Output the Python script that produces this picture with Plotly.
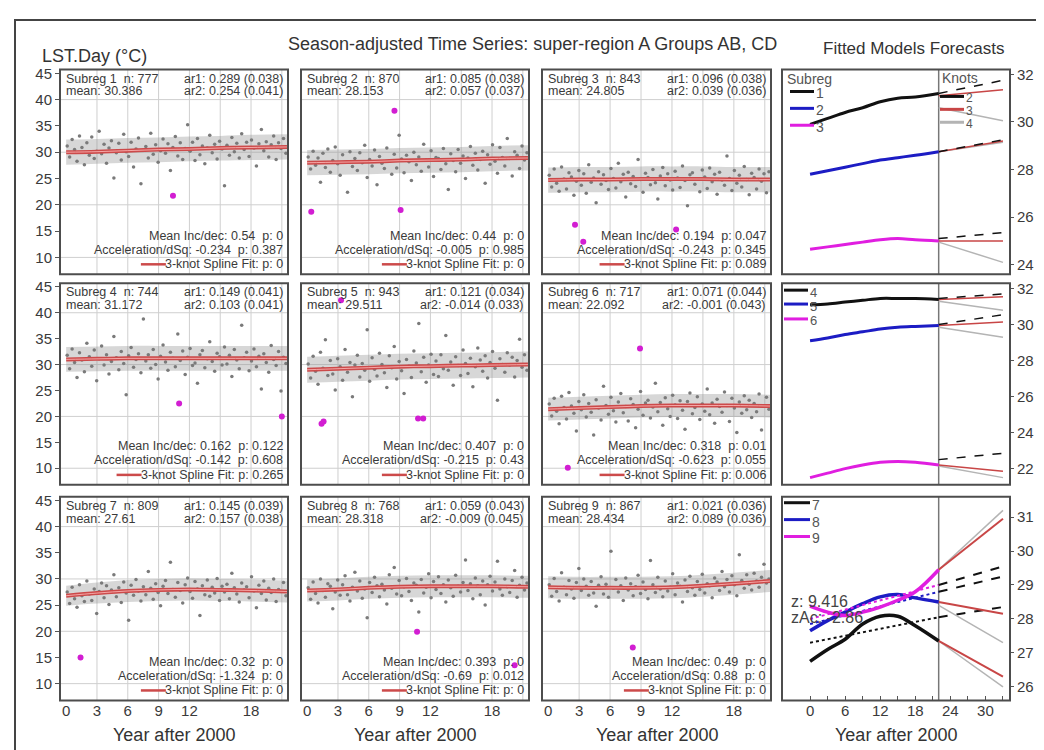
import plotly.graph_objects as go

# ------------------------------------------------------------------ data
spline_years = [0, 3, 6, 9, 12, 15, 18, 21.5]

fit_1 = [30.0, 30.1, 30.3, 30.5, 30.6, 30.8, 30.9, 31.0]
fit_2 = [28.0, 28.1, 28.2, 28.4, 28.5, 28.6, 28.8, 28.9]
fit_3 = [24.7, 24.8, 24.8, 24.9, 24.9, 24.9, 24.8, 24.8]
fit_4 = [31.0, 31.1, 31.2, 31.2, 31.2, 31.2, 31.2, 31.2]
fit_5 = [29.0, 29.2, 29.4, 29.6, 29.7, 29.8, 29.9, 30.0]
fit_6 = [21.4, 21.6, 21.8, 22.0, 22.1, 22.1, 22.1, 22.0]
fit_7 = [26.8, 27.3, 27.7, 27.9, 28.0, 27.9, 27.8, 27.6]
fit_8 = [27.8, 28.0, 28.3, 28.5, 28.6, 28.6, 28.6, 28.5]
fit_9 = [28.4, 28.3, 28.3, 28.3, 28.4, 28.7, 29.1, 29.6]

band_lo_1 = [27.6, 27.8, 28.0, 28.1, 28.3, 28.4, 28.5, 28.6]
band_hi_1 = [32.4, 32.5, 32.7, 32.8, 33.0, 33.1, 33.3, 33.4]
band_lo_2 = [25.6, 25.7, 25.8, 26.0, 26.1, 26.2, 26.4, 26.5]
band_hi_2 = [30.4, 30.5, 30.6, 30.8, 30.9, 31.0, 31.2, 31.3]
band_lo_3 = [22.3, 22.4, 22.4, 22.5, 22.5, 22.5, 22.4, 22.4]
band_hi_3 = [27.1, 27.2, 27.2, 27.3, 27.3, 27.3, 27.2, 27.2]
band_lo_4 = [28.6, 28.7, 28.8, 28.8, 28.8, 28.8, 28.8, 28.8]
band_hi_4 = [33.4, 33.5, 33.6, 33.6, 33.6, 33.6, 33.6, 33.6]
band_lo_5 = [26.5, 26.7, 26.9, 27.1, 27.2, 27.3, 27.4, 27.5]
band_hi_5 = [31.5, 31.7, 31.9, 32.1, 32.2, 32.3, 32.4, 32.5]
band_lo_6 = [19.2, 19.4, 19.6, 19.8, 19.9, 19.9, 19.9, 19.8]
band_hi_6 = [23.6, 23.8, 24.0, 24.2, 24.3, 24.3, 24.3, 24.2]
band_lo_7 = [24.9, 25.3, 25.6, 25.8, 25.9, 25.8, 25.7, 25.5]
band_hi_7 = [28.7, 29.3, 29.8, 30.0, 30.1, 30.0, 29.9, 29.7]
band_lo_8 = [25.7, 25.9, 26.2, 26.4, 26.5, 26.5, 26.5, 26.4]
band_hi_8 = [29.9, 30.1, 30.4, 30.6, 30.7, 30.7, 30.7, 30.6]
band_lo_9 = [26.3, 26.2, 26.2, 26.2, 26.3, 26.6, 27.0, 27.5]
band_hi_9 = [30.5, 30.4, 30.4, 30.4, 30.5, 30.8, 31.2, 31.7]

dots_1 = [31.2, 29.1, 32.4, 30.5, 28.3, 33.1, 30.9, 27.6, 31.8, 29.4,
          32.9, 28.8, 30.2, 34.0, 29.7, 31.5, 27.9, 30.8, 32.2, 25.1,
          29.9, 31.7, 28.5, 33.4, 30.1, 29.2, 31.9, 27.2, 30.6, 32.7,
          24.0, 30.4, 31.1, 28.9, 33.6, 29.6, 31.4, 28.1, 30.3, 32.5,
          29.8, 31.6, 26.5, 30.9, 33.0, 29.3, 31.8, 28.6, 30.7, 35.2,
          30.2, 31.9, 28.4, 32.6, 29.5, 31.2, 27.8, 30.8, 33.2, 29.9,
          31.5, 28.7, 32.1, 30.6, 23.6, 31.3, 29.4, 32.8, 30.1, 31.7,
          28.9, 33.5, 30.5, 31.9, 29.2, 32.3, 30.8, 27.4, 31.6, 34.3,
          30.3, 32.0, 29.1, 31.4, 33.1, 28.6, 31.8, 30.7, 32.6, 29.8]
dots_2 = [29.1, 26.8, 30.2, 27.5, 28.9, 24.3, 29.8, 27.1, 30.6, 26.2,
          28.4, 31.0, 27.8, 25.6, 29.5, 28.1, 22.4, 30.1, 27.3, 28.8,
          26.5, 29.9, 28.0, 31.3, 25.2, 28.6, 27.4, 30.4, 23.8, 29.2,
          27.9, 26.9, 30.8, 28.3, 25.8, 29.6, 27.0, 33.2, 28.7, 26.1,
          29.4, 28.2, 24.6, 30.0, 27.6, 29.1, 26.4, 31.5, 28.5, 27.2,
          30.3, 25.4, 29.0, 28.8, 26.7, 30.7, 27.8, 22.9, 29.7, 28.4,
          26.3, 30.5, 27.9, 29.3, 25.0, 28.9, 31.1, 27.5, 29.8, 26.6,
          28.6, 30.2, 24.1, 29.5, 27.7, 31.4, 28.3, 26.0, 30.9, 29.0,
          27.4, 32.6, 28.8, 25.5, 30.1, 29.4, 26.9, 31.2, 28.5, 29.9]
dots_3 = [25.6, 23.4, 26.8, 24.1, 22.6, 27.2, 24.9, 23.0, 26.1, 25.3,
          21.8, 24.5, 26.5, 23.7, 25.9, 22.2, 27.6, 24.3, 25.1, 20.4,
          26.3, 23.9, 25.7, 24.6, 22.9, 26.9, 25.0, 23.2, 27.9, 24.4,
          25.8, 21.5, 26.2, 24.0, 25.4, 23.5, 28.6, 24.8, 22.4, 26.0,
          25.2, 23.8, 26.7, 24.2, 21.1, 25.5, 27.1, 23.6, 25.9, 24.7,
          22.8, 26.4, 25.1, 23.3, 27.4, 24.6, 19.8, 25.7, 26.1, 23.9,
          24.9, 22.5, 26.6, 25.3, 23.1, 27.0, 24.4, 25.8, 22.0, 26.2,
          24.7, 23.7, 29.3, 25.0, 22.7, 26.5, 24.1, 25.6, 23.4, 27.3,
          24.8, 21.9, 26.0, 25.2, 23.0, 26.8, 24.5, 25.9, 22.3, 26.3]
dots_4 = [31.8, 29.2, 33.0, 30.4, 27.5, 32.3, 30.9, 28.6, 34.1, 31.5,
          29.7, 32.8, 26.9, 31.1, 33.6, 29.9, 31.9, 28.2, 30.6, 35.4,
          31.3, 29.0, 32.5, 30.2, 24.2, 31.7, 33.3, 29.5, 31.0, 32.1,
          28.4, 38.8, 30.7, 31.9, 29.3, 32.9, 30.0, 27.2, 31.6, 33.8,
          30.5, 28.9, 32.4, 31.2, 29.6, 35.9, 30.8, 32.6, 28.1, 31.4,
          33.1, 29.8, 30.3, 26.4, 31.9, 32.7, 29.4, 31.1, 34.4, 30.6,
          28.7, 32.2, 31.5, 29.9, 33.4, 30.1, 31.8, 27.7, 32.9, 30.9,
          29.2, 37.6, 31.3, 32.4, 28.8, 30.7, 33.0, 29.6, 31.6, 25.3,
          32.1, 30.4, 28.5, 33.7, 31.0, 29.8, 32.5, 24.9, 31.4, 30.2]
dots_5 = [30.1, 27.4, 31.6, 28.7, 26.2, 32.4, 29.3, 34.8, 27.9, 30.8,
          28.2, 25.1, 31.1, 29.6, 27.0, 32.9, 28.5, 30.4, 23.8, 29.9,
          31.8, 27.6, 30.2, 28.9, 36.7, 26.8, 31.3, 29.1, 27.8, 32.2,
          30.0, 28.4, 25.6, 31.7, 29.4, 33.5, 27.2, 30.6, 28.8, 24.4,
          31.0, 29.7, 27.5, 32.6, 30.3, 37.9, 28.6, 31.4, 26.6, 29.9,
          32.0, 28.1, 30.7, 27.7, 31.9, 29.2, 35.6, 28.9, 30.5, 26.0,
          31.5, 29.8, 27.9, 32.8, 30.2, 28.3, 31.2, 25.7, 29.6, 33.2,
          30.9, 28.7, 31.7, 27.4, 30.4, 32.5, 29.3, 23.1, 31.1, 30.0,
          28.5, 32.3, 29.9, 31.4, 27.6, 30.8, 34.9, 29.5, 31.9, 28.9]
dots_6 = [22.4, 20.1, 23.5, 21.0, 18.6, 23.9, 21.7, 19.5, 24.6, 22.0,
          20.6, 17.2, 22.9, 21.3, 24.2, 19.9, 22.5, 20.8, 16.4, 23.2,
          21.6, 19.3, 25.8, 22.1, 20.4, 23.7, 21.1, 18.9, 22.8, 24.4,
          20.7, 21.9, 19.1, 23.4, 22.3, 17.8, 21.4, 24.8, 20.2, 22.6,
          23.1, 19.7, 21.8, 26.4, 20.9, 22.7, 18.3, 23.6, 21.5, 20.0,
          24.1, 22.2, 19.6, 23.0, 21.2, 17.5, 22.9, 24.5, 20.5, 21.7,
          23.8, 19.4, 22.4, 21.0, 25.3, 20.3, 22.6, 18.7, 23.3, 21.9,
          20.8, 24.7, 22.1, 19.0, 23.5, 21.6, 16.9, 22.8, 20.6, 24.0,
          21.3, 23.1, 19.8, 22.5, 20.9, 24.3, 17.4, 22.0, 23.7, 21.4]
dots_7 = [27.5, 25.3, 28.4, 26.2, 24.6, 28.9, 26.8, 25.7, 29.6, 27.1,
          25.9, 28.1, 23.4, 27.6, 29.2, 26.4, 28.7, 25.1, 27.9, 30.8,
          26.6, 28.3, 25.5, 29.4, 27.3, 22.1, 28.8, 26.9, 29.9, 27.7,
          25.8, 28.5, 27.0, 31.4, 28.2, 26.1, 29.1, 27.4, 24.9, 28.6,
          29.7, 27.2, 33.2, 28.0, 26.5, 29.3, 27.8, 25.4, 28.9, 30.2,
          27.6, 26.3, 29.5, 28.1, 23.0, 28.7, 27.0, 29.8, 26.7, 28.4,
          27.3, 30.1, 25.9, 28.6, 27.5, 29.0, 26.2, 31.1, 28.3, 27.1,
          25.6, 29.2, 27.9, 28.5, 26.4, 30.4, 27.7, 24.5, 28.8, 27.2,
          29.6, 26.0, 28.2, 27.4, 30.0, 25.7, 28.0, 27.6, 29.3, 26.8]
dots_8 = [28.3, 26.1, 29.4, 27.2, 25.4, 30.0, 27.8, 26.5, 29.1, 28.6,
          24.3, 27.5, 29.8, 26.9, 28.9, 30.6, 27.0, 25.8, 28.4, 31.3,
          27.7, 29.6, 26.3, 28.1, 22.6, 29.3, 27.4, 30.3, 28.7, 26.6,
          29.0, 27.9, 25.2, 30.8, 28.2, 32.2, 27.1, 29.7, 26.8, 28.5,
          30.1, 27.6, 25.9, 29.2, 28.8, 23.7, 29.9, 27.3, 28.4, 31.0,
          26.4, 29.5, 28.0, 30.4, 27.2, 28.9, 25.6, 29.8, 28.3, 26.7,
          30.7, 28.6, 27.5, 29.3, 33.6, 27.8, 29.1, 26.2, 30.2, 28.7,
          27.0, 29.6, 25.0, 28.9, 30.5, 27.7, 29.4, 33.4, 28.1, 26.9,
          30.0, 28.5, 27.4, 29.7, 31.6, 26.5, 28.8, 30.3, 27.9, 29.2]
dots_9 = [28.9, 26.7, 30.1, 27.6, 25.8, 31.2, 28.4, 27.0, 29.7, 28.1,
          26.3, 29.3, 32.0, 27.8, 30.0, 28.6, 26.9, 29.5, 27.3, 24.8,
          28.8, 30.4, 27.1, 29.0, 26.5, 35.3, 28.2, 29.9, 27.5, 28.7,
          25.9, 30.2, 27.9, 29.1, 26.8, 28.5, 30.7, 27.2, 29.4, 28.0,
          26.2, 33.5, 28.9, 27.4, 30.3, 28.1, 26.6, 29.6, 27.7, 28.4,
          31.0, 27.0, 29.2, 28.6, 25.6, 29.8, 27.6, 30.5, 28.3, 26.9,
          29.5, 28.0, 30.9, 27.3, 29.1, 28.7, 26.4, 30.2, 29.4, 27.8,
          31.4, 28.5, 29.9, 27.5, 30.6, 28.9, 26.8, 34.6, 29.7, 28.2,
          30.8, 29.0, 27.9, 31.1, 29.6, 28.4, 30.3, 32.8, 29.2, 30.0]

out_x_1 = [10.4];                     out_y_1 = [21.7]
out_x_2 = [0.4, 9.1, 8.5];            out_y_2 = [18.7, 19.0, 37.9]
out_x_3 = [2.6, 3.4, 12.4];           out_y_3 = [16.2, 13.0, 15.3]
out_x_4 = [11.0, 21.0];               out_y_4 = [22.5, 20.0]
out_x_5 = [1.4, 1.6, 3.3, 10.8, 11.3]; out_y_5 = [18.6, 19.0, 42.4, 19.6, 19.6]
out_x_6 = [8.9, 1.9];                 out_y_6 = [33.1, 10.1]
out_x_7 = [1.4];                      out_y_7 = [15.0]
out_x_8 = [10.7, 20.2];               out_y_8 = [19.9, 13.5]
out_x_9 = [8.2];                      out_y_9 = [16.9]

subreg_ids = [1, 2, 3, 4, 5, 6, 7, 8, 9]
n_obs = [777, 870, 843, 744, 943, 717, 809, 768, 867]
mean_txt = ["30.386", "28.153", "24.805", "31.172", "29.511", "22.092", "27.61", "28.318", "28.434"]
ar1_txt = ["0.289 (0.038)", "0.085 (0.038)", "0.096 (0.038)", "0.149 (0.041)", "0.121 (0.034)",
           "0.071 (0.044)", "0.145 (0.039)", "0.059 (0.043)", "0.021 (0.036)"]
ar2_txt = ["0.254 (0.041)", "0.057 (0.037)", "0.039 (0.036)", "0.103 (0.041)", "-0.014 (0.033)",
           "-0.001 (0.043)", "0.157 (0.038)", "-0.009 (0.045)", "0.089 (0.036)"]
inc_txt = ["0.54  p: 0", "0.44  p: 0", "0.194  p: 0.047", "0.162  p: 0.122", "0.407  p: 0",
           "0.318  p: 0.01", "0.32  p: 0", "0.393  p: 0", "0.49  p: 0"]
acc_txt = ["-0.234  p: 0.387", "-0.005  p: 0.985", "-0.243  p: 0.345", "-0.142  p: 0.608",
           "-0.215  p: 0.43", "-0.623  p: 0.055", "-1.324  p: 0", "-0.69  p: 0.012", "0.88  p: 0"]
spline_p_txt = ["0", "0", "0.089", "0.265", "0", "0.006", "0", "0", "0"]

# forecast panel data
fc_years = [0, 3, 6, 9, 12, 15, 18, 22]
fc_ahead = [22, 33]
fc_fit_1 = [29.9, 30.15, 30.4, 30.6, 30.85, 31.0, 31.05, 31.2]
fc_fit_2 = [27.8, 27.95, 28.1, 28.25, 28.4, 28.5, 28.6, 28.75]
fc_fit_3 = [24.65, 24.75, 24.85, 24.95, 25.05, 25.1, 25.05, 25.0]
fc_fit_4 = [31.1, 31.15, 31.25, 31.35, 31.45, 31.45, 31.45, 31.4]
fc_fit_5 = [29.1, 29.25, 29.45, 29.6, 29.75, 29.85, 29.9, 29.95]
fc_fit_6 = [21.5, 21.75, 22.0, 22.2, 22.35, 22.4, 22.35, 22.2]
fc_fit_7 = [26.75, 27.1, 27.4, 27.85, 28.08, 28.08, 27.8, 27.35]
fc_fit_8 = [27.65, 27.95, 28.2, 28.45, 28.65, 28.72, 28.62, 28.5]
fc_fit_9 = [28.38, 28.2, 28.1, 28.2, 28.35, 28.55, 28.8, 29.45]

# knot forecasts (2 knots = black dashed, 3 knots = red, 4 knots = grey)
k2_1 = [31.2, 31.75];  k3_1 = [31.1, 31.35];  k4_1 = [30.6, 30.05]
k2_2 = [28.75, 29.25]; k3_2 = [28.75, 29.2];  k4_2 = [28.75, 29.15]
k2_3 = [25.1, 25.35];  k3_3 = [25.0, 25.0];   k4_3 = [24.95, 24.1]
k2_4 = [31.45, 31.7];  k3_4 = [31.4, 31.55];  k4_4 = [31.3, 30.8]
k2_5 = [30.0, 30.55];  k3_5 = [29.95, 30.15]; k4_5 = [29.85, 29.3]
k2_6 = [22.5, 22.85];  k3_6 = [22.2, 21.85];  k4_6 = [22.15, 21.5]
k3_7 = [27.35, 26.3];  k4_7 = [27.35, 26.0]
k3_8 = [28.5, 28.15];  k4_8 = [28.4, 27.3]
k3_9 = [29.45, 30.95]; k4_9 = [29.45, 31.2]

lin_years = [0, 22]
lin_7 = [27.3, 28.05];  lin_ahead_7 = [28.05, 28.35]
lin_8 = [27.85, 28.8];  lin_ahead_8 = [28.8, 29.25]
lin_9 = [28.0, 29.0];   lin_ahead_9 = [29.0, 29.55]

scatter_xticks = [0, 3, 6, 9, 12, 15, 18, 21]
scatter_xlabels = ["0", "3", "6", "9", "12", "", "18", ""]
scatter_yticks = [10, 15, 20, 25, 30, 35, 40, 45]
grid_y = [10, 20, 30, 40]
grid_x = [3, 6, 9, 12, 15, 18, 21]
fc_xticks = [0, 3, 6, 9, 12, 15, 18, 21, 24, 27, 30, 33]
fc_xlabels = ["0", "", "6", "", "12", "", "18", "", "24", "", "30", ""]
fc_yranges = [[23.6, 32.2], [21.1, 32.3], [25.6, 31.6]]
fc_yticks = [[24, 26, 28, 30, 32], [22, 24, 26, 28, 30, 32], [26, 27, 28, 29, 30, 31]]

# ------------------------------------------------------------------ layout helpers
W, H = 1044, 750
FONT = "Liberation Sans, Arial, sans-serif"
TXT = "#3a3a3a"
col_px = [(52, 280), (293, 521), (534, 763), (774, 1002)]
row_px = [(57, 263), (272, 475), (487, 692)]

CHAR_W = {" ": 278, "-": 333, ".": 278, ":": 278, "t": 278, "i": 222, "l": 222,
          "k": 500, "S": 667, "F": 611}

def text_w(s, size):
    return sum(CHAR_W.get(ch, 556) for ch in s) / 1000 * size

def px(x):
    return x / W

def py(y):
    return 1 - y / H

def xn(k):
    return "x" if k == 1 else f"x{k}"

def yn(k):
    return "y" if k == 1 else f"y{k}"

def axkey(prefix, k):
    return f"{prefix}axis" if k == 1 else f"{prefix}axis{k}"

fig = go.Figure()
layout = dict(width=W, height=H, margin=dict(l=0, r=0, t=0, b=0),
              paper_bgcolor="white", plot_bgcolor="white", showlegend=False,
              font=dict(family=FONT, color=TXT))
shapes, annots = [], []

fits = [fit_1, fit_2, fit_3, fit_4, fit_5, fit_6, fit_7, fit_8, fit_9]
los = [band_lo_1, band_lo_2, band_lo_3, band_lo_4, band_lo_5, band_lo_6, band_lo_7, band_lo_8, band_lo_9]
his = [band_hi_1, band_hi_2, band_hi_3, band_hi_4, band_hi_5, band_hi_6, band_hi_7, band_hi_8, band_hi_9]
dots = [dots_1, dots_2, dots_3, dots_4, dots_5, dots_6, dots_7, dots_8, dots_9]
outx = [out_x_1, out_x_2, out_x_3, out_x_4, out_x_5, out_x_6, out_x_7, out_x_8, out_x_9]
outy = [out_y_1, out_y_2, out_y_3, out_y_4, out_y_5, out_y_6, out_y_7, out_y_8, out_y_9]

RED = "#cc4a4a"
HF = 12.5
for r in range(3):
    for c in range(4):
        k = r * 4 + c + 1
        x0, x1 = col_px[c]
        y0, y1 = row_px[r]
        xa = dict(domain=[px(x0), px(x1)], anchor=yn(k), showgrid=False, zeroline=False,
                  showline=False, tickfont=dict(size=15, color=TXT))
        ya = dict(domain=[py(y1), py(y0)], anchor=xn(k), showgrid=False, zeroline=False,
                  showline=False, tickfont=dict(size=15, color=TXT))
        if c < 3:
            i = r * 3 + c
            xa.update(range=[-0.6, 21.6], tickmode="array", tickvals=scatter_xticks,
                      ticktext=scatter_xlabels, showticklabels=(r == 2), ticks="")
            ya.update(range=[6.8, 45.7], tickmode="array", tickvals=scatter_yticks,
                      showticklabels=(c == 0), ticks="outside" if c == 0 else "",
                      ticklen=4, tickcolor="#555")
            for g in grid_y:
                shapes.append(dict(type="line", xref=f"{xn(k)} domain", yref=yn(k), x0=0, x1=1,
                                   y0=g, y1=g, line=dict(color="#cfcfcf", width=1), layer="below"))
            for g in grid_x:
                shapes.append(dict(type="line", xref=xn(k), yref=f"{yn(k)} domain", x0=g, x1=g,
                                   y0=0, y1=1, line=dict(color="#cfcfcf", width=1), layer="below"))
            # density band of observations
            fig.add_trace(go.Scatter(x=spline_years, y=los[i], mode="lines", line=dict(width=0, shape="spline"),
                                     xaxis=xn(k), yaxis=yn(k), hoverinfo="skip"))
            fig.add_trace(go.Scatter(x=spline_years, y=his[i], mode="lines", line=dict(width=0, shape="spline"),
                                     fill="tonexty", fillcolor="rgba(145,145,145,0.36)",
                                     xaxis=xn(k), yaxis=yn(k), hoverinfo="skip"))
            n = len(dots[i])
            dx = [0.1 + 21.3 * j / (n - 1) for j in range(n)]
            fig.add_trace(go.Scatter(x=dx, y=dots[i], mode="markers",
                                     marker=dict(size=3.5, color="#7a7a7a"),
                                     xaxis=xn(k), yaxis=yn(k)))
            fig.add_trace(go.Scatter(x=spline_years, y=fits[i], mode="lines",
                                     line=dict(color=RED, width=4, shape="spline"),
                                     xaxis=xn(k), yaxis=yn(k)))
            fig.add_trace(go.Scatter(x=spline_years, y=fits[i], mode="lines",
                                     line=dict(color="rgba(255,190,190,0.8)", width=1, shape="spline"),
                                     xaxis=xn(k), yaxis=yn(k)))
            fig.add_trace(go.Scatter(x=outx[i], y=outy[i], mode="markers",
                                     marker=dict(size=6, color="#d21ed2"),
                                     xaxis=xn(k), yaxis=yn(k)))
            # text
            fh = dict(size=HF, color=TXT, family=FONT)
            spl_txt = f"3-knot Spline Fit: p: {spline_p_txt[i]}"
            tw = text_w(spl_txt, HF)
            shapes.append(dict(type="line", xref="paper", yref="paper",
                               x0=px(x1 - 4 - tw - 25), x1=px(x1 - 4 - tw), y0=py(y1 - 10), y1=py(y1 - 10),
                               line=dict(color=RED, width=2.5)))
            annots += [
                dict(x=px(x0 + 4), y=py(y0 + 9), xref="paper", yref="paper", xanchor="left",
                     yanchor="middle", showarrow=False, font=fh,
                     text=f"Subreg {subreg_ids[i]}  n: {n_obs[i]}"),
                dict(x=px(x0 + 4), y=py(y0 + 22), xref="paper", yref="paper", xanchor="left",
                     yanchor="middle", showarrow=False, font=fh, text=f"mean: {mean_txt[i]}"),
                dict(x=px(x1 - 3), y=py(y0 + 9), xref="paper", yref="paper", xanchor="right",
                     yanchor="middle", showarrow=False, font=fh, text=f"ar1: {ar1_txt[i]}"),
                dict(x=px(x1 - 3), y=py(y0 + 22), xref="paper", yref="paper", xanchor="right",
                     yanchor="middle", showarrow=False, font=fh, text=f"ar2: {ar2_txt[i]}"),
                dict(x=px(x1 - 3), y=py(y1 - 39), xref="paper", yref="paper", xanchor="right",
                     yanchor="middle", showarrow=False, font=fh, text=f"Mean Inc/dec: {inc_txt[i]}"),
                dict(x=px(x1 - 3), y=py(y1 - 24.5), xref="paper", yref="paper", xanchor="right",
                     yanchor="middle", showarrow=False, font=fh,
                     text=f"Acceleration/dSq: {acc_txt[i]}"),
                dict(x=px(x1 - 3), y=py(y1 - 10), xref="paper", yref="paper", xanchor="right",
                     yanchor="middle", showarrow=False, font=fh, text=spl_txt),
            ]
        else:
            xa.update(range=[-4.8, 34.2], tickmode="array", tickvals=fc_xticks, ticktext=fc_xlabels,
                      showticklabels=(r == 2), ticks="inside" if r == 2 else "", ticklen=4,
                      tickcolor="#555")
            ya.update(range=fc_yranges[r], tickmode="array", tickvals=fc_yticks[r], side="right",
                      ticks="outside", ticklen=3, tickcolor="#555", tickfont=dict(size=15, color=TXT))
            shapes.append(dict(type="line", xref=xn(k), yref=f"{yn(k)} domain", x0=22, x1=22,
                               y0=0, y1=1, line=dict(color="#777", width=1.5), layer="below"))
        shapes.append(dict(type="rect", xref=f"{xn(k)} domain", yref=f"{yn(k)} domain",
                           x0=0, x1=1, y0=0, y1=1, line=dict(color="#4d4d4d", width=2), layer="above"))
        layout[axkey("x", k)] = xa
        layout[axkey("y", k)] = ya

# ---------------- forecast traces
BLACK, BLUE, MAG, FRED, GREY = "#111111", "#1c1cc4", "#e01ee0", "#c84646", "#b4b4b4"
fc_rows = [
    [(fc_fit_1, BLACK, k2_1, k3_1, k4_1), (fc_fit_2, BLUE, k2_2, k3_2, k4_2), (fc_fit_3, MAG, k2_3, k3_3, k4_3)],
    [(fc_fit_4, BLACK, k2_4, k3_4, k4_4), (fc_fit_5, BLUE, k2_5, k3_5, k4_5), (fc_fit_6, MAG, k2_6, k3_6, k4_6)],
]
for r, row in enumerate(fc_rows):
    k = r * 4 + 4
    for fit, col, k2, k3, k4 in row:
        fig.add_trace(go.Scatter(x=fc_ahead, y=k4, mode="lines", line=dict(color=GREY, width=1.5),
                                 xaxis=xn(k), yaxis=yn(k)))
        fig.add_trace(go.Scatter(x=fc_ahead, y=k3, mode="lines", line=dict(color=FRED, width=1.5),
                                 xaxis=xn(k), yaxis=yn(k)))
        fig.add_trace(go.Scatter(x=fc_ahead, y=k2, mode="lines", line=dict(color=BLACK, width=1.5, dash="dash"),
                                 xaxis=xn(k), yaxis=yn(k)))
        fig.add_trace(go.Scatter(x=fc_years, y=fit, mode="lines", line=dict(color=col, width=3, shape="spline"),
                                 xaxis=xn(k), yaxis=yn(k)))

k = 12
for fit, col, k3, k4, lin, lin_a in [(fc_fit_7, BLACK, k3_7, k4_7, lin_7, lin_ahead_7),
                                     (fc_fit_8, BLUE, k3_8, k4_8, lin_8, lin_ahead_8),
                                     (fc_fit_9, MAG, k3_9, k4_9, lin_9, lin_ahead_9)]:
    fig.add_trace(go.Scatter(x=fc_ahead, y=k4, mode="lines", line=dict(color=GREY, width=1.5),
                             xaxis=xn(k), yaxis=yn(k)))
    fig.add_trace(go.Scatter(x=fc_ahead, y=k3, mode="lines", line=dict(color=FRED, width=2),
                             xaxis=xn(k), yaxis=yn(k)))
    fig.add_trace(go.Scatter(x=lin_years, y=lin, mode="lines", line=dict(color=col, width=2, dash="dot"),
                             xaxis=xn(k), yaxis=yn(k)))
    fig.add_trace(go.Scatter(x=fc_ahead, y=lin_a, mode="lines", line=dict(color=BLACK, width=2, dash="dash"),
                             xaxis=xn(k), yaxis=yn(k)))
    fig.add_trace(go.Scatter(x=fc_years, y=fit, mode="lines", line=dict(color=col, width=3.5, shape="spline"),
                             xaxis=xn(k), yaxis=yn(k)))

# ---------------- legends inside forecast panels
def leg(x0, x1, y, color, label, lx, size=14):
    shapes.append(dict(type="line", xref="paper", yref="paper", x0=px(x0), x1=px(x1), y0=py(y), y1=py(y),
                       line=dict(color=color, width=3)))
    annots.append(dict(x=px(lx), y=py(y + 2), xref="paper", yref="paper", xanchor="left", yanchor="middle",
                       showarrow=False, text=label, font=dict(size=size, color="#555", family=FONT)))

annots.append(dict(x=px(777), y=py(66), xref="paper", yref="paper", xanchor="left", yanchor="middle",
                   showarrow=False, text="Subreg", font=dict(size=14, color="#555", family=FONT)))
annots.append(dict(x=px(932), y=py(65), xref="paper", yref="paper", xanchor="left", yanchor="middle",
                   showarrow=False, text="Knots", font=dict(size=14, color="#555", family=FONT)))
leg(782, 806, 79, BLACK, "1", 806)
leg(782, 806, 96, BLUE, "2", 806)
leg(782, 806, 113, MAG, "3", 806)
leg(932, 956, 84, BLACK, "2", 956, 12)
leg(932, 956, 97, FRED, "3", 956, 12)
leg(932, 956, 110, GREY, "4", 956, 12)
leg(776, 800, 279, BLACK, "4", 800, 13)
leg(776, 800, 293, BLUE, "5", 800, 13)
leg(776, 800, 308, MAG, "6", 800, 13)
leg(776, 802, 493, BLACK, "7", 802, 14)
leg(776, 802, 510, BLUE, "8", 802, 14)
leg(776, 802, 527, MAG, "9", 802, 14)

annots.append(dict(x=px(781), y=py(592), xref="paper", yref="paper", xanchor="left", yanchor="middle",
                   showarrow=False, text="z: 9.416", font=dict(size=16, color="#444", family=FONT)))
annots.append(dict(x=px(781), y=py(609), xref="paper", yref="paper", xanchor="left", yanchor="middle",
                   showarrow=False, text="zAc: -2.86", font=dict(size=16, color="#444", family=FONT)))

# ---------------- titles
annots.append(dict(x=px(524), y=py(31), xref="paper", yref="paper", xanchor="center", yanchor="middle",
                   showarrow=False, text="Season-adjusted Time Series: super-region A Groups AB, CD",
                   font=dict(size=18, color="#333", family=FONT)))
annots.append(dict(x=px(32), y=py(43), xref="paper", yref="paper", xanchor="left", yanchor="middle",
                   showarrow=False, text="LST.Day (°C)", font=dict(size=18, color="#333", family=FONT)))
annots.append(dict(x=px(905), y=py(36), xref="paper", yref="paper", xanchor="center", yanchor="middle",
                   showarrow=False, text="Fitted Models Forecasts", font=dict(size=17, color="#333", family=FONT)))
for c in range(4):
    cx = (col_px[c][0] + col_px[c][1]) / 2
    annots.append(dict(x=px(cx), y=py(727), xref="paper", yref="paper", xanchor="center", yanchor="middle",
                       showarrow=False, text="Year after 2000", font=dict(size=18, color="#333", family=FONT)))

# outer frame
shapes.append(dict(type="rect", xref="paper", yref="paper", x0=px(7), x1=px(1033), y0=py(770), y1=py(7),
                   line=dict(color="#444", width=2)))

layout["shapes"] = shapes
layout["annotations"] = annots
fig.update_layout(**layout)
fig.write_html("out.html")
